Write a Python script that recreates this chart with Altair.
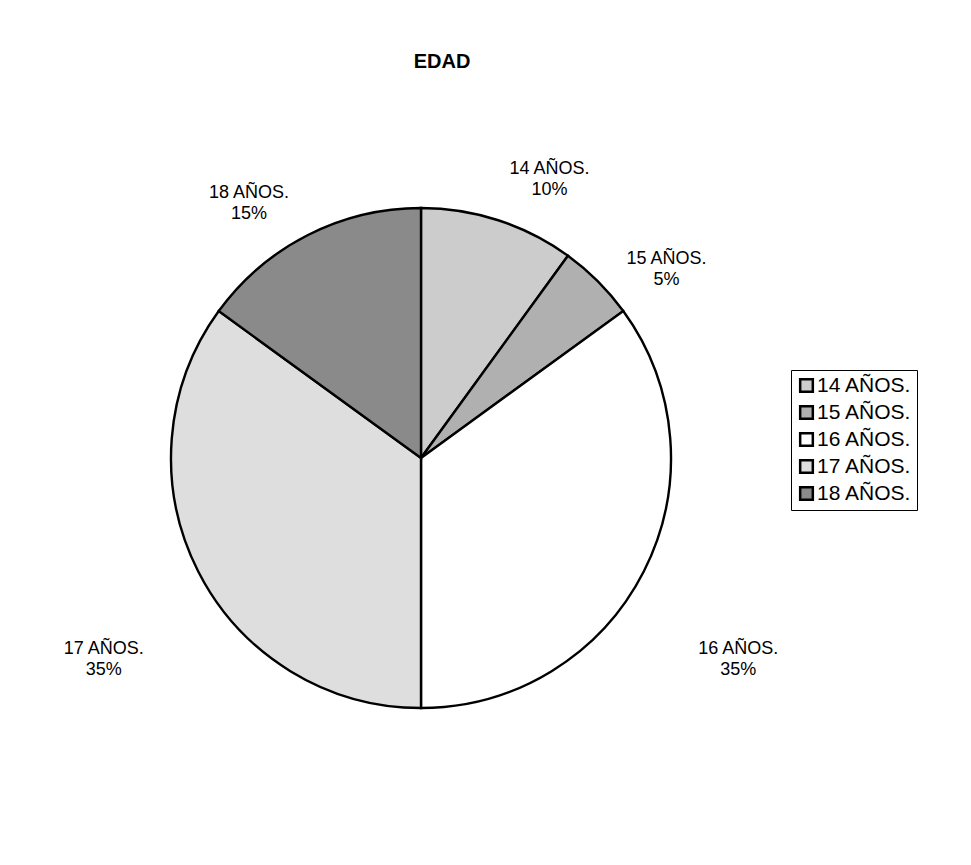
import altair as alt
import pandas as pd

categories = ["14 AÑOS.", "15 AÑOS.", "16 AÑOS.", "17 AÑOS.", "18 AÑOS."]
percent = [10, 5, 35, 35, 15]
colors = ["#cccccc", "#b0b0b0", "#ffffff", "#dedede", "#8a8a8a"]

df = pd.DataFrame({"cat": categories, "pct": percent, "order": list(range(len(categories)))})
df["label"] = [f"{c}\n{p}%" for c, p in zip(categories, percent)]

FONT = "Liberation Sans"
CX, CY = 413, 450

pie = alt.Chart(df).mark_arc(outerRadius=250, stroke="black", strokeWidth=2.4).encode(
    theta=alt.Theta("pct:Q", stack=True),
    order=alt.Order("order:Q"),
    x=alt.value(CX),
    y=alt.value(CY),
    color=alt.Color(
        "cat:N",
        scale=alt.Scale(domain=categories, range=colors),
        sort=categories,
        legend=alt.Legend(
            title=None,
            orient="none",
            legendX=783,
            legendY=362,
            symbolType="square",
            symbolSize=160,
            symbolStrokeColor="black",
            symbolStrokeWidth=2.5,
            labelFont=FONT,
            labelFontSize=21,
            labelColor="black",
            rowPadding=4,
            strokeColor="black",
            padding=5,
            labelOffset=0,
        ),
    ),
)

labels = alt.Chart(df).transform_window(
    cum="sum(pct)", sort=[alt.SortField("order")]
).transform_joinaggregate(
    total="sum(pct)"
).transform_calculate(
    mid0="(datum.cum - datum.pct / 2) / datum.total * 2 * PI",
).transform_calculate(
    mid="datum.mid0 + (sin(datum.mid0) >= 0 ? 1 : -1) * (datum.pct >= 30 ? 4 : 6) * PI / 180",
    r="datum.pct >= 30 ? 370 : 316",
).mark_text(
    font=FONT, fontSize=18, lineHeight=21, color="black", align="center",
    baseline="middle", lineBreak="\n"
).encode(
    text=alt.Text("label:N"),
    theta=alt.Theta("mid:Q", scale=None, stack=None),
    radius=alt.Radius("r:Q", scale=None, stack=None),
    x=alt.value(CX),
    y=alt.value(CY),
)

title = alt.Chart(pd.DataFrame({"t": ["EDAD"]})).mark_text(
    font=FONT, fontSize=20, fontWeight="bold", color="black"
).encode(text="t:N", x=alt.value(434), y=alt.value(54))

chart = alt.layer(pie, labels, title).properties(
    width=955, height=849, autosize="none", padding=0
).configure_view(stroke=None)

chart.save("out.html", embed_options={"renderer": "svg", "actions": False})
